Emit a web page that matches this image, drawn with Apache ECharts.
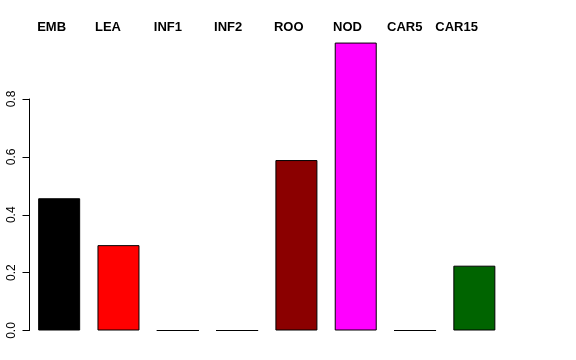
<!DOCTYPE html>
<html>
<head>
<meta charset="utf-8">
<script src="https://cdn.jsdelivr.net/npm/echarts@6/dist/echarts.min.js"></script>
<style>html,body{margin:0;padding:0;background:#fff}#c{width:576px;height:360px}</style>
</head>
<body>
<div id="c"></div>
<script>
const categories = ['EMB','LEA','INF1','INF2','ROO','NOD','CAR5','CAR15'];
const values = [0.457, 0.295, 0, 0, 0.589, 0.995, 0, 0.224];
const colors = ['#000000','#FF0000','#BEBEBE','#BEBEBE','#8B0000','#FF00FF','#BEBEBE','#006400'];
const yTicks = [0, 0.2, 0.4, 0.6, 0.8];
const labelShift = [-22, -23.5, -24, -23, -22.5, -22.7, -28, -39];

const chart = echarts.init(document.getElementById('c'), null, {renderer:'canvas'});
const option = {
  animation: false,
  backgroundColor: '#ffffff',
  grid: {left: 29.5, right: 72, top: 99, bottom: 29.5},
  xAxis: {
    type: 'category', data: categories, boundaryGap: true,
    axisLine: {show: false}, axisTick: {show: false}, axisLabel: {show: false}, splitLine: {show: false}
  },
  yAxis: {
    type: 'value', min: yTicks[0], max: yTicks[yTicks.length-1], interval: 0.2,
    axisLine: {show: true, lineStyle: {color: '#000', width: 1}},
    axisTick: {show: true, length: 7, lineStyle: {color: '#000', width: 1}},
    splitLine: {show: false},
    axisLabel: {
      rotate: 90, margin: 12, color: '#000', fontSize: 12,
      fontFamily: 'Liberation Sans, Arial, sans-serif',
      formatter: v => v.toFixed(1)
    }
  },
  series: [{
    type: 'bar', clip: false, barWidth: 42,
    data: values.map((v, i) => ({value: v, itemStyle: {color: colors[i]}})),
    itemStyle: {borderColor: '#000', borderWidth: 1}
  }]
};
chart.setOption(option);
const graphics = categories.map((c, i) => {
  const p = chart.convertToPixel({xAxisIndex: 0}, c);
  return {
    type: 'text', x: p + labelShift[i], y: 33.5,
    style: {text: c, fill: '#000', font: 'bold 13px "Liberation Sans", Arial, sans-serif',
      textAlign: 'left', textVerticalAlign: 'bottom'}
  };
});
chart.setOption({graphic: graphics});
</script>
</body>
</html>
